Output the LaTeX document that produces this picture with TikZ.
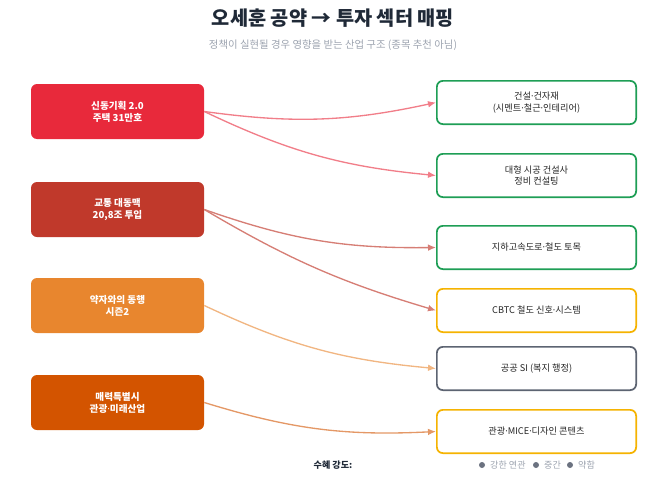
\documentclass[tikz,border=0pt]{standalone}
\usepackage{fontspec}
\setmainfont{Noto Sans CJK KR}
\newfontfamily\dotfont{Noto Sans}
\newcommand{\mdot}{{\dotfont ·}}
\usetikzlibrary{arrows.meta, positioning}
\definecolor{pledgeA}{HTML}{E8293B}
\definecolor{pledgeB}{HTML}{C0392B}
\definecolor{pledgeC}{HTML}{E8862E}
\definecolor{pledgeD}{HTML}{D35400}
\definecolor{strong}{HTML}{1E9E55}
\definecolor{middle}{HTML}{F5B301}
\definecolor{weak}{HTML}{5D6472}
\definecolor{titlegray}{HTML}{1F2937}
\definecolor{subgray}{HTML}{9CA3AF}
\definecolor{dotgray}{HTML}{6B7280}

\begin{document}
\begin{tikzpicture}[x=0.75pt, y=-0.75pt,
		pledge/.style={rectangle, rounded corners=4.5pt, minimum width=129.75pt, minimum height=41.25pt, inner sep=0pt, text=white, align=center, font=\fontsize{7.2}{9}\selectfont\bfseries},
		sector/.style={rectangle, rounded corners=4.5pt, draw, line width=1.3pt, fill=white, minimum width=149.45pt, minimum height=32.45pt, inner sep=0pt, align=center, text=black!85, font=\fontsize{6.9}{8.5}\selectfont},
		link/.style={line width=1pt, -{Latex[length=6pt,width=5pt]}},
		legdot/.style={circle, fill=dotgray, minimum size=4.5pt, inner sep=0pt},
		legtext/.style={text=subgray, inner sep=0pt, font=\fontsize{6.8}{8}\selectfont}]
	\useasboundingbox (0,0) rectangle (667,496);
	
	% title
	\node [text=titlegray, font=\fontsize{14.8}{17}\selectfont\bfseries] (title) at (333,18) {오세훈 공약 → 투자 섹터 매핑};
	\node [text=subgray, font=\fontsize{7.8}{9}\selectfont] (subtitle) at (333,45) {정책이 실현될 경우 영향을 받는 산업 구조 (종목 추천 아님)};
	
	% pledges
	\node [pledge, fill=pledgeA] (housing) at (117.5,111.5) {신동기획 2.0\\주택 31만호};
	\node [pledge, fill=pledgeB] (traffic) at (117.5,209.5) {교통 대동맥\\20,8조 투입};
	\node [pledge, fill=pledgeC] (welfare) at (117.5,305.5) {약자와의 동행\\시즌2};
	\node [pledge, fill=pledgeD] (charm) at (117.5,402.5) {매력특별시\\관광\mdot 미래산업};
	
	% sectors
	\node [sector, draw=strong] (build) at (536.5,102.5) {건설\mdot 건자재\\(시멘트\mdot 철근\mdot 인테리어)};
	\node [sector, draw=strong] (contractor) at (536.5,175.5) {대형 시공 건설사\\정비 컨설팅};
	\node [sector, draw=strong] (civil) at (536.5,247.5) {지하고속도로\mdot 철도 토목};
	\node [sector, draw=middle] (cbtc) at (536.5,310.5) {CBTC 철도 신호\mdot 시스템};
	\node [sector, draw=weak] (publicsi) at (536.5,368.5) {공공 SI (복지 행정)};
	\node [sector, draw=middle] (tourism) at (536.5,431.5) {관광\mdot MICE\mdot 디자인 콘텐츠};
	
	% links
	\draw [link, pledgeA!60] (housing.east) to[bend right=10] (build.west);
	\draw [link, pledgeA!60] (housing.east) to[bend right=10] (contractor.west);
	\draw [link, pledgeB!65] (traffic.east) to[bend right=10] (civil.west);
	\draw [link, pledgeB!65] (traffic.east) to[bend right=7] (cbtc.west);
	\draw [link, pledgeC!60] (welfare.east) to[bend right=10] (publicsi.west);
	\draw [link, pledgeD!60] (charm.east) to[bend right=10] (tourism.west);
	
	% legend
	\node [text=titlegray, inner sep=0pt, font=\fontsize{6.8}{8}\selectfont\bfseries] (legend) at (333,465) {수혜 강도:};
	\node [legdot] (dstrong) at (482,465) {};
	\node [legtext, right=3.5pt of dstrong] (lstrong) {강한 연관};
	\node [legdot] (dmiddle) at (536,465) {};
	\node [legtext, right=3.5pt of dmiddle] (lmiddle) {중간};
	\node [legdot] (dweak) at (570,465) {};
	\node [legtext, right=3.5pt of dweak] (lweak) {약함};
\end{tikzpicture}
\end{document}
